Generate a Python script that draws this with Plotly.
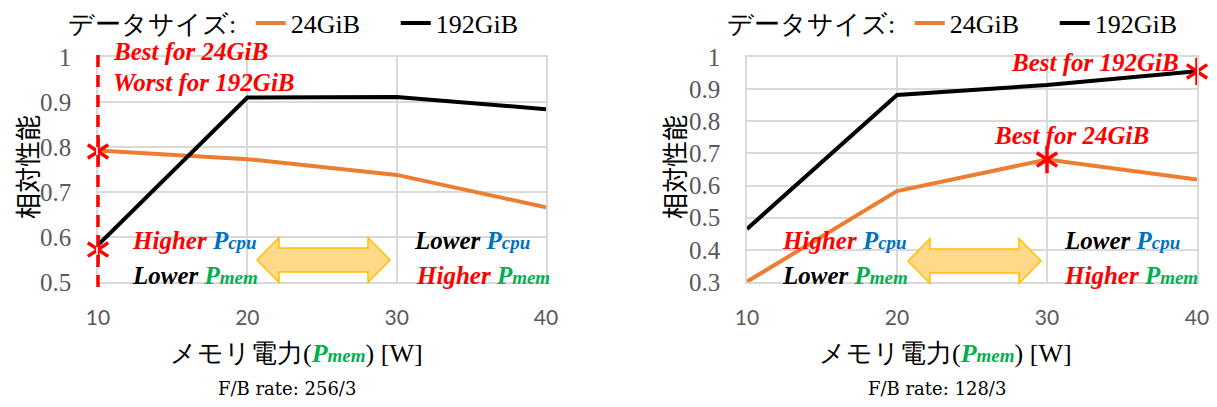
import plotly.graph_objects as go

W, H = 1217, 407

# memory power cap [W]
power_w = [10, 20, 30, 40]
x_tick_labels = ["10", "20", "30", "40"]

# relative performance, F/B rate 256/3
perf_24_a = [0.792, 0.773, 0.738, 0.666]
perf_192_a = [0.582, 0.910, 0.911, 0.884]
# relative performance, F/B rate 128/3
perf_24_b = [0.301, 0.583, 0.681, 0.619]
perf_192_b = [0.465, 0.882, 0.913, 0.956]

# highlighted operating points
star_x_a = [10, 10]
star_y_a = [0.790, 0.572]
star_x_b = [30, 40]
star_y_b = [0.681, 0.955]

y_ticks_a = [0.5, 0.6, 0.7, 0.8, 0.9, 1.0]
y_tick_labels_a = ["0.5", "0.6", "0.7", "0.8", "0.9", "1"]
y_ticks_b = [0.3, 0.4, 0.5, 0.6, 0.7, 0.8, 0.9, 1.0]
y_tick_labels_b = ["0.3", "0.4", "0.5", "0.6", "0.7", "0.8", "0.9", "1"]

series_names = ["24GiB", "192GiB"]

ORANGE = "#ED7D31"
RED = "#FF0000"
BLUE = "#0070C0"
GREEN = "#00B050"
GRID = "#D9D9D9"
TICK_GRAY = "#595959"
SERIF = "Liberation Serif"
SANS_TICK = "Lato"
JP = "Noto Sans CJK JP"


def px(x, y):
    """pixel position -> paper coordinates"""
    return x / W, 1 - y / H


fig = go.Figure()

panels = [
    ("x", "y", perf_24_a, perf_192_a, star_x_a, star_y_a, "legend"),
    ("x2", "y2", perf_24_b, perf_192_b, star_x_b, star_y_b, "legend2"),
]
for xa, ya, p24, p192, sx, sy, leg in panels:
    for name, vals, col in [(series_names[0], p24, ORANGE), (series_names[1], p192, "black")]:
        fig.add_trace(go.Scatter(
            x=power_w, y=vals, mode="lines", name=name,
            line=dict(color=col, width=4), xaxis=xa, yaxis=ya,
            legend=leg, showlegend=True, hoverinfo="skip"))
    # six-armed asterisk built from two "y" symbols
    for sym in ["y-up-open", "y-down-open"]:
        fig.add_trace(go.Scatter(
            x=sx, y=sy, mode="markers", showlegend=False, cliponaxis=False,
            marker=dict(symbol=sym, size=17, color=RED,
                        line=dict(color=RED, width=3.5)),
            xaxis=xa, yaxis=ya, hoverinfo="skip"))

x_common = dict(range=[10, 40], tickvals=power_w, ticktext=x_tick_labels,
                showgrid=True, gridcolor=GRID, gridwidth=1.5,
                showline=True, linecolor=GRID, linewidth=1.5, mirror=True,
                zeroline=False, ticks="", ticklabelstandoff=16,
                tickfont=dict(family=SANS_TICK, size=21, color=TICK_GRAY))
y_common = dict(showgrid=True, gridcolor=GRID, gridwidth=1.5,
                showline=True, linecolor=GRID, linewidth=1.5, mirror=True,
                zeroline=False, ticks="", ticklabelstandoff=20,
                tickfont=dict(family=SERIF, size=25, color=TICK_GRAY))

y_bot, y_top = 1 - 282 / H, 1 - 57 / H
fig.update_layout(
    xaxis=dict(domain=[98 / W, 546 / W], anchor="y", **x_common),
    yaxis=dict(domain=[y_bot, y_top], anchor="x", range=[0.5, 1.0],
               tickvals=y_ticks_a, ticktext=y_tick_labels_a, **y_common),
    xaxis2=dict(domain=[747 / W, 1197 / W], anchor="y2", **x_common),
    yaxis2=dict(domain=[y_bot, y_top], anchor="x2", range=[0.3, 1.0],
                tickvals=y_ticks_b, ticktext=y_tick_labels_b, **y_common),
)

legend_common = dict(orientation="h", xanchor="left", yanchor="middle",
                     bgcolor="rgba(0,0,0,0)", borderwidth=0,
                     font=dict(family=SERIF, size=26, color="black"),
                     title=dict(text="データサイズ: ", side="left",
                                font=dict(family=SERIF, size=26, color="black")),
                     entrywidth=100, itemwidth=30, tracegroupgap=0)
lx, ly = px(66, 23)
fig.update_layout(legend=dict(x=lx, y=ly, **legend_common))
lx2, ly2 = px(725, 23)
fig.update_layout(legend2=dict(x=lx2, y=ly2, **legend_common))

annotations = []


def label(text, x, y, xanchor="left", size=25, font=SERIF, color="black", angle=0):
    ax, ay = px(x, y)
    annotations.append(dict(text=text, x=ax, y=ay, xref="paper", yref="paper",
                            xanchor=xanchor, yanchor="middle", showarrow=False,
                            textangle=angle,
                            font=dict(family=font, size=size, color=color)))


def sub(letter, s, col):
    return (f"<span style='color:{col}'><b><i>{letter}"
            f"<span style='font-size:19px'>{s}</span></i></b></span>")


def bi(t, col):
    return f"<span style='color:{col}'><b><i>{t}</i></b></span>"


# Pcpu / Pmem trade-off labels
for off in [0, 650]:
    label(bi("Higher ", RED) + sub("P", "cpu", BLUE), 130 + off, 241)
    label(bi("Lower ", "black") + sub("P", "mem", GREEN), 130 + off, 275)
for lo in [(412, 414), (1062, 1062)]:
    label(bi("Lower ", "black") + sub("P", "cpu", BLUE), lo[0], 241)
    label(bi("Higher ", RED) + sub("P", "mem", GREEN), lo[1], 275)

# callouts
label(bi("Best for 24GiB", RED), 111, 52)
label(bi("Worst for 192GiB", RED), 111, 82)
label(bi("Best for 192GiB", RED), 1181, 62, xanchor="right")
label(bi("Best for 24GiB", RED), 1071, 135, xanchor="center")

# axis titles
for cx, ycx in [(296, 26), (946, 673)]:
    label("メモリ電力(" + sub("P", "mem", GREEN) + ") [W]", cx, 353,
          xanchor="center", size=26)
    label("相対性能", ycx, 167, xanchor="center", size=26, font=JP, angle=-90)
label("F/B rate: 256/3", 287, 388, xanchor="center", size=18, font="DejaVu Serif")
label("F/B rate: 128/3", 937, 388, xanchor="center", size=18, font="DejaVu Serif")

fig.update_layout(annotations=annotations)

# double-headed arrows
shapes = []


def arrow(tip_x, mid_y, length=133, head=22, half=22.5, body=12):
    pts = [(tip_x, mid_y), (tip_x + head, mid_y - half), (tip_x + head, mid_y - body),
           (tip_x + length - head, mid_y - body), (tip_x + length - head, mid_y - half),
           (tip_x + length, mid_y), (tip_x + length - head, mid_y + half),
           (tip_x + length - head, mid_y + body), (tip_x + head, mid_y + body),
           (tip_x + head, mid_y + half)]
    path = "M " + " L ".join(f"{px(a, b)[0]:.5f},{px(a, b)[1]:.5f}" for a, b in pts) + " Z"
    shapes.append(dict(type="path", path=path, xref="paper", yref="paper",
                       fillcolor="#FFD98A", line=dict(color="#FFC000", width=1.5),
                       layer="above"))


arrow(257, 260)
arrow(908, 261)

# dashed marker at 10 W (left panel)
shapes.append(dict(type="line", xref="paper", yref="paper", x0=98 / W, x1=98 / W,
                   y0=1 - 287 / H, y1=1 - 49 / H,
                   line=dict(color=RED, width=3.5, dash="12px,8px"), layer="above"))

fig.update_layout(shapes=shapes)

fig.update_layout(width=W, height=H,
                  margin=dict(l=0, r=0, t=0, b=0, autoexpand=False),
                  paper_bgcolor="white", plot_bgcolor="white", showlegend=True)

fig.write_html("out.html")
